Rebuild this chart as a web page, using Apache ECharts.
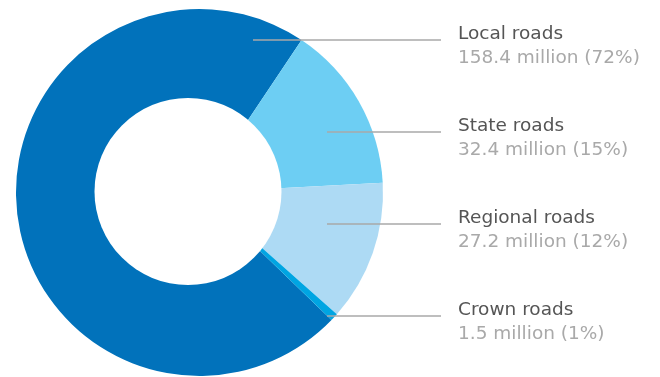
<!DOCTYPE html>
<html>
<head>
<meta charset="utf-8">
<title>Road length by type</title>
<script src="https://cdn.jsdelivr.net/npm/echarts@6/dist/echarts.min.js"></script>
<style>
  html, body { margin: 0; padding: 0; background: #ffffff; }
  #chart { width: 660px; height: 377px; }
</style>
</head>
<body>
<div id="chart"></div>
<script>
// Road network by managing authority (million units)
const categories = ['Local roads', 'State roads', 'Regional roads', 'Crown roads'];
const values = [158.4, 32.4, 27.2, 1.5];
const colors = ['#0172BB', '#6DCEF3', '#ADDAF4', '#00A5E2'];

const total = values.reduce((a, b) => a + b, 0);

// label placement on the right-hand side
const labelX = 458;
const lineEndX = 441;
const baselineY = [40, 132, 224, 316];
const leaderStartX = [253, 327, 327, 327];

const pieCenter = [199.5, 192.5];
const pieRadius = 183.5;
const startAngle = -44;

const chart = echarts.init(document.getElementById('chart'), null, { renderer: 'canvas' });

const pieData = (fill) => categories.map((name, i) => ({
  name: name,
  value: values[i],
  itemStyle: { color: fill ? colors[i] : 'rgba(0,0,0,0)' }
}));

chart.setOption({
  backgroundColor: '#ffffff',
  animation: false,
  graphic: [{
    // off-centre hole of the ring
    type: 'circle',
    z: 100,
    silent: true,
    shape: { cx: 188, cy: 191.5, r: 93.5 },
    style: { fill: '#ffffff' }
  }],
  series: [{
    // coloured slices
    type: 'pie',
    z: 2,
    center: pieCenter,
    radius: [0, pieRadius],
    startAngle: startAngle,
    clockwise: true,
    silent: true,
    itemStyle: { borderWidth: 0 },
    emphasis: { disabled: true },
    label: { show: false },
    labelLine: { show: false },
    data: pieData(true)
  }, {
    // same slices, transparent, carrying the labels and leader lines on top
    type: 'pie',
    z: 5,
    center: pieCenter,
    radius: [0, pieRadius],
    startAngle: startAngle,
    clockwise: true,
    silent: true,
    avoidLabelOverlap: false,
    itemStyle: { borderWidth: 0 },
    emphasis: { disabled: true },
    data: pieData(false),
    label: {
      show: true,
      position: 'outer',
      formatter: (p) => {
        const pct = Math.round(p.value / total * 100);
        return '{n|' + p.name + '}\n{v|' + p.value + ' million (' + pct + '%)}';
      },
      rich: {
        n: { fontFamily: 'DejaVu Sans', fontSize: 18.5, color: '#555555', lineHeight: 24 },
        v: { fontFamily: 'DejaVu Sans', fontSize: 18.5, color: '#a9a9a9', lineHeight: 24 }
      }
    },
    labelLine: {
      show: true,
      smooth: false,
      lineStyle: { color: '#a8a8a8', width: 1.5 }
    },
    labelLayout: (params) => {
      const i = params.dataIndex;
      const y = baselineY[i];
      return {
        x: labelX,
        y: y - 17.5,
        align: 'left',
        verticalAlign: 'top',
        labelLinePoints: [[leaderStartX[i], y], [lineEndX, y], [lineEndX, y]]
      };
    }
  }]
});
</script>
</body>
</html>
